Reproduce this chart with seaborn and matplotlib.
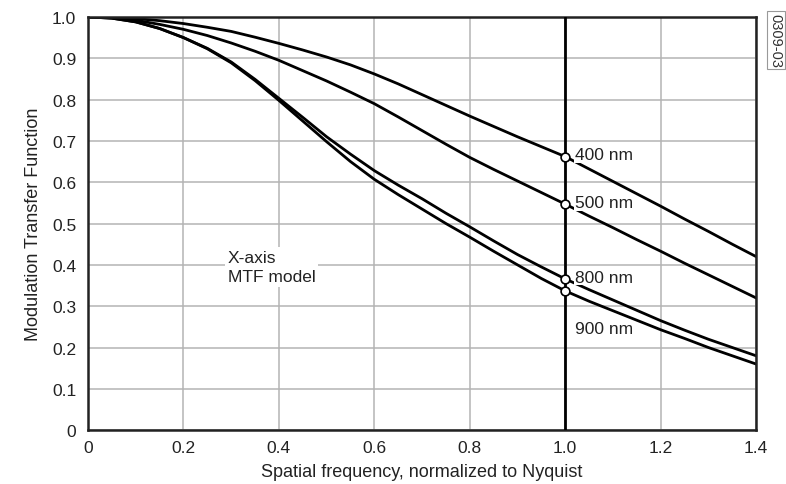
import pandas as pd
import seaborn as sns
import matplotlib.pyplot as plt

freq = [0.0, 0.05, 0.1, 0.15, 0.2, 0.25, 0.3, 0.35, 0.4, 0.45, 0.5, 0.55, 0.6, 0.65, 0.7,
        0.75, 0.8, 0.85, 0.9, 0.95, 1.0, 1.05, 1.1, 1.15, 1.2, 1.25, 1.3, 1.35, 1.4]
mtf_400 = [1.0, 0.999, 0.996, 0.991, 0.984, 0.975, 0.965, 0.951, 0.936, 0.92, 0.903, 0.884, 0.862, 0.838, 0.812,
           0.786, 0.76, 0.735, 0.71, 0.686, 0.662, 0.632, 0.602, 0.572, 0.542, 0.511, 0.481, 0.45, 0.42]
mtf_500 = [1.0, 0.998, 0.992, 0.982, 0.97, 0.955, 0.937, 0.917, 0.895, 0.87, 0.845, 0.818, 0.79, 0.758, 0.725,
           0.692, 0.66, 0.631, 0.603, 0.575, 0.547, 0.518, 0.49, 0.461, 0.433, 0.404, 0.376, 0.348, 0.32]
mtf_800 = [1.0, 0.997, 0.988, 0.972, 0.95, 0.924, 0.891, 0.849, 0.803, 0.757, 0.71, 0.668, 0.628, 0.593, 0.56,
           0.525, 0.492, 0.458, 0.425, 0.395, 0.366, 0.34, 0.315, 0.29, 0.265, 0.242, 0.22, 0.2, 0.18]
mtf_900 = [1.0, 0.997, 0.988, 0.972, 0.95, 0.923, 0.889, 0.846, 0.798, 0.748, 0.698, 0.65, 0.607, 0.57, 0.535,
           0.5, 0.467, 0.433, 0.4, 0.367, 0.337, 0.312, 0.289, 0.266, 0.243, 0.222, 0.2, 0.18, 0.16]
wavelengths = ["400 nm", "500 nm", "800 nm", "900 nm"]
nyquist_vals = [0.662, 0.547, 0.366, 0.337]
label_y = [0.666, 0.55, 0.37, 0.245]

rows = []
for wl, vals in zip(wavelengths, [mtf_400, mtf_500, mtf_800, mtf_900]):
    for f, v in zip(freq, vals):
        rows.append({"freq": f, "mtf": v, "wl": wl})
df = pd.DataFrame(rows)

sns.set_style("whitegrid")
plt.rcParams['font.family'] = ['Liberation Sans', 'DejaVu Sans']

fig = plt.figure(figsize=(7.86, 4.85), dpi=100)
ax = fig.add_axes([0.112, 0.111, 0.85, 0.852])

sns.lineplot(data=df, x="freq", y="mtf", units="wl", estimator=None,
             color="black", linewidth=2.0, ax=ax, legend=False)

ax.axvline(1.0, color="black", linewidth=2.0, zorder=3)
sns.scatterplot(x=[1.0] * 4, y=nyquist_vals, ax=ax, s=40, facecolor="white",
                edgecolor="black", linewidth=1.2, zorder=5, legend=False)

for wl, ly in zip(wavelengths, label_y):
    ax.text(1.02, ly, wl, fontsize=12.5, va="center", ha="left", color="#222222",
            bbox=dict(facecolor="white", edgecolor="none", pad=0.3))

ax.text(0.293, 0.395, "X-axis\nMTF model", fontsize=12.5, va="center", ha="left",
        linespacing=1.3, color="#222222",
        bbox=dict(facecolor="white", edgecolor="none", pad=2))

ax.set_xlim(0, 1.4)
ax.set_ylim(0, 1.0)
ax.set_xticks([0, 0.2, 0.4, 0.6, 0.8, 1.0, 1.2, 1.4])
ax.set_xticklabels(["0", "0.2", "0.4", "0.6", "0.8", "1.0", "1.2", "1.4"])
ax.set_yticks([i / 10 for i in range(11)])
ax.set_yticklabels(["0"] + [f"{i/10:.1f}" for i in range(1, 11)])
ax.tick_params(labelsize=12.5, length=0, labelcolor="#222222")
ax.tick_params(axis="x", pad=7)
ax.tick_params(axis="y", pad=8.5)
ax.grid(True, color="#b4b4b4", linewidth=1.1)
for s in ax.spines.values():
    s.set_color("#222222")
    s.set_linewidth(1.8)

ax.set_xlabel("Spatial frequency, normalized to Nyquist", fontsize=13, labelpad=6, color="#222222")
ax.set_ylabel("Modulation Transfer Function", fontsize=13, labelpad=7, color="#222222")

fig.text(0.987, 0.915, "0309-03", rotation=-90, fontsize=10.5, ha="center", va="center",
         color="#333333",
         bbox=dict(facecolor="white", edgecolor="#999999", pad=1.5, linewidth=0.8))

fig.savefig("out.png", dpi=100)
